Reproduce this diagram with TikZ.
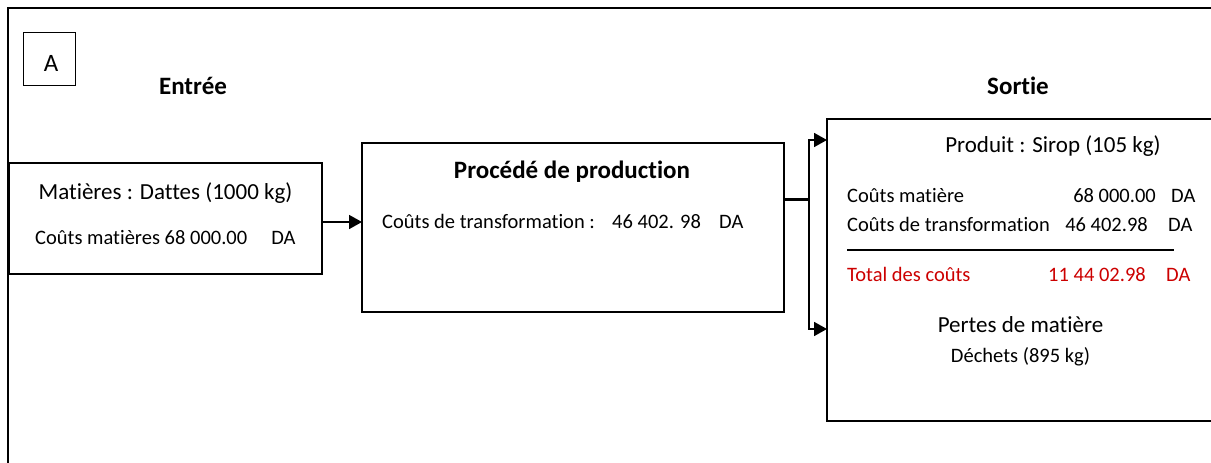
\documentclass[tikz,border=0pt]{standalone}
\usepackage{fontspec}
\setmainfont{Carlito}[Ligatures={TeX,NoCommon}]
\usetikzlibrary{arrows.meta}
\definecolor{totred}{RGB}{204,0,0}
\begin{document}
\begin{tikzpicture}[x=1pt,y=-1pt,
  box/.style={draw,line width=1.7pt,inner sep=0pt,outer sep=0pt,anchor=north west},
  big/.style={font=\fontsize{23}{27}\selectfont,inner sep=0pt,anchor=base},
  small/.style={font=\fontsize{20.5}{24}\selectfont,inner sep=0pt,anchor=base},
  ttl/.style={font=\fontsize{25}{30}\selectfont\bfseries,inner sep=0pt,anchor=base},
  conn/.style={line width=1.7pt},
  tip/.style={-{Triangle[length=13pt,width=14pt]}}]
\useasboundingbox (0,0) rectangle (1211,463);
\clip (0,0) rectangle (1211,463);
% frame
\node[box,minimum width=1230pt,minimum height=480pt] (frame) at (8,8) {};
\node[box,line width=1pt,minimum width=52pt,minimum height=53pt] (abox) at (23,32) {};
\node[font=\fontsize{25}{30}\selectfont,inner sep=0pt] (alabel) at (51,63) {A};
% headings
\node[ttl] (entree) at (193,94) {Entrée};
\node[ttl] (sortie) at (1018,94) {Sortie};
% boxes
\node[box,minimum width=313pt,minimum height=111pt] (input) at (9,163) {};
\node[box,minimum width=422pt,minimum height=169pt] (process) at (362,143) {};
\node[box,minimum width=420pt,minimum height=302pt] (output) at (827,119) {};
% input text
\node[big] (in1) at (165.5,199) {Matières : Dattes (1000 kg)};
\node[small,anchor=base west] (in2) at (35,244) {Coûts matières 68 000.00\hspace*{24pt}DA};
% process text
\node[ttl] (pr1) at (572,178) {Procédé de production};
\node[small,anchor=base west] (pr2) at (382,228) {Coûts de transformation :};
\node[small,anchor=base west] (pr3) at (612,228) {46 402. 98};
\node[small,anchor=base west] (pr4) at (719,228) {DA};
% output text
\node[big] (o1t) at (1053,152) {Produit : Sirop (105 kg)};
\node[small,anchor=base west] (c1) at (847,202) {Coûts matière};
\node[small,anchor=base east] (c1v) at (1156,202) {68 000.00};
\node[small,anchor=base west] (c1u) at (1171,202) {DA};
\node[small,anchor=base west] (c2) at (847,231) {Coûts de transformation};
\node[small,anchor=base east] (c2v) at (1148,231) {46 402.98};
\node[small,anchor=base west] (c2u) at (1168,231) {DA};
\coordinate (ls) at (847,250);
\coordinate (le) at (1174,250);
\draw[line width=1.7pt] (ls) -- (le);
\node[small,anchor=base west,text=totred] (c3) at (847,281) {Total des coûts};
\node[small,anchor=base east,text=totred] (c3v) at (1146,281) {11 44 02.98};
\node[small,anchor=base west,text=totred] (c3u) at (1166,281) {DA};
\node[big] (p1) at (1020.5,332) {Pertes de matière};
\node[small] (p2) at (1020.5,362) {Déchets (895 kg)};
% connectors
\draw[conn,tip] (input.east |- 0,222) -- (process.west |- 0,222);
\coordinate (split) at (809,199);
\coordinate (t1) at (827,140);
\coordinate (t2) at (827,329);
\draw[line width=3pt] (process.east |- split) -- (split);
\draw[conn,tip] (split) |- (t1);
\draw[conn,tip] (split) |- (t2);
\end{tikzpicture}
\end{document}
